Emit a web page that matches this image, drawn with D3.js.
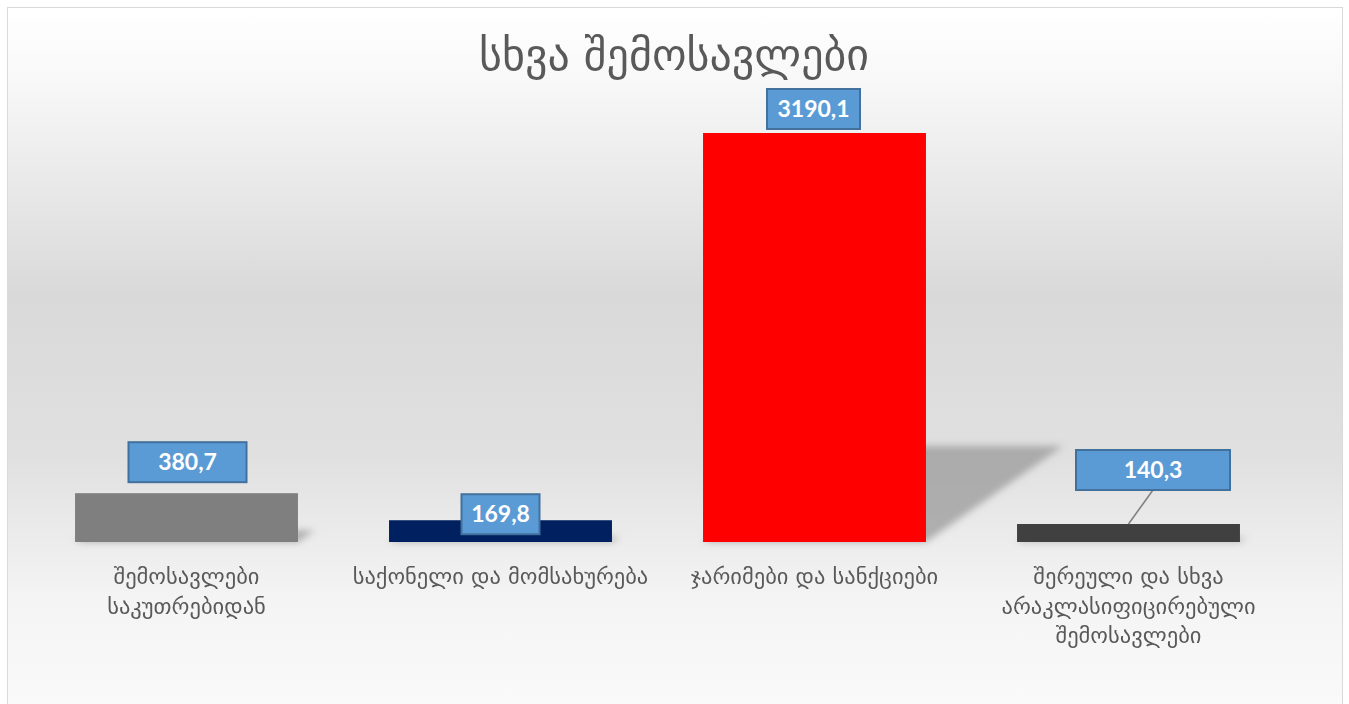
<!DOCTYPE html>
<html>
<head>
<meta charset="utf-8">
<script src="https://cdnjs.cloudflare.com/ajax/libs/d3/7.8.5/d3.min.js"></script>
<style>
  body { margin: 0; background: #ffffff; }
  svg { display: block; }
</style>
</head>
<body>
<script>
// chart data
var title = "სხვა შემოსავლები";
var categories = [
  "შემოსავლები\nსაკუთრებიდან",
  "საქონელი და მომსახურება",
  "ჯარიმები და სანქციები",
  "შერეული და სხვა\nარაკლასიფიცირებული\nშემოსავლები"
];
var values = [380.7, 169.8, 3190.1, 140.3];
var valueLabels = ["380,7", "169,8", "3190,1", "140,3"];
var barColors = ["#7f7f7f", "#002060", "#ff0000", "#404040"];

// where the label boxes were dragged to (centre dx, bottom relative to bar top, width)
var labelBoxes = [
  { dx: 1, dy: -11, w: 118 },
  { dx: 0, dy: 14, w: 78 },
  { dx: -1, dy: -4, w: 93 },
  { dx: 24.5, dy: -34, w: 154 }
];

var width = 1349, height = 704;
var baseY = 542;

var svg = d3.select("body").append("svg")
  .attr("width", width)
  .attr("height", height);

var defs = svg.append("defs");
var grad = defs.append("linearGradient")
  .attr("id", "bg")
  .attr("x1", 0).attr("y1", 0).attr("x2", 0).attr("y2", 1);
[[0, "#ffffff"], [0.1, "#f8f8f8"], [0.4, "#d9d9d9"], [0.62, "#e0e0e0"], [0.82, "#f4f4f4"], [1, "#fbfbfb"]]
  .forEach(function (s) {
    grad.append("stop").attr("offset", s[0]).attr("stop-color", s[1]);
  });

defs.append("filter").attr("id", "blur")
  .attr("x", "-20%").attr("y", "-20%").attr("width", "140%").attr("height", "140%")
  .append("feGaussianBlur").attr("stdDeviation", 3.5);

// chart area
svg.append("rect")
  .attr("x", 7.5).attr("y", 7.5)
  .attr("width", 1335).attr("height", 720)
  .attr("fill", "url(#bg)")
  .attr("stroke", "#d9d9d9")
  .attr("stroke-width", 1);

var x = d3.scaleBand()
  .domain(categories)
  .range([29.5, 1285.5])
  .paddingInner(0.29)
  .paddingOuter(0.145);

var y = d3.scaleLinear()
  .domain([0, 3500])
  .range([baseY, baseY - 409 * 3500 / 3190.1]);

var data = categories.map(function (c, i) {
  return { cat: c, value: values[i], label: valueLabels[i], color: barColors[i], box: labelBoxes[i] };
});

// perspective shadows behind the bars
svg.append("g").attr("filter", "url(#blur)")
  .selectAll("path")
  .data(data)
  .enter().append("path")
  .attr("fill", "#9a9a9a")
  .attr("opacity", 0.75)
  .attr("d", function (d) {
    var h = baseY - y(d.value);
    var xl = x(d.cat), xr = x(d.cat) + x.bandwidth();
    var sx = 0.335 * h, sy = 0.235 * h;
    return "M" + xl + "," + baseY +
      "L" + (xl + sx) + "," + (baseY - sy) +
      "L" + (xr + sx) + "," + (baseY - sy) +
      "L" + xr + "," + baseY + "Z";
  });

// bars
svg.append("g")
  .selectAll("rect")
  .data(data)
  .enter().append("rect")
  .attr("x", function (d) { return x(d.cat); })
  .attr("y", function (d) { return y(d.value); })
  .attr("width", x.bandwidth())
  .attr("height", function (d) { return baseY - y(d.value); })
  .attr("fill", function (d) { return d.color; });

// title
svg.append("text")
  .attr("x", 674)
  .attr("y", 70)
  .attr("text-anchor", "middle")
  .style("font-family", "'DejaVu Sans', sans-serif")
  .style("font-size", "44px")
  .style("fill", "#595959")
  .text(title);

// category labels
var cats = svg.append("g").selectAll("text")
  .data(data)
  .enter().append("text")
  .attr("text-anchor", "middle")
  .attr("x", function (d) { return x(d.cat) + x.bandwidth() / 2; })
  .attr("y", 584)
  .style("font-family", "'DejaVu Sans', sans-serif")
  .style("font-size", "22.5px")
  .style("fill", "#595959");

cats.each(function (d) {
  var t = d3.select(this);
  d.cat.split("\n").forEach(function (line, j) {
    t.append("tspan")
      .attr("x", x(d.cat) + x.bandwidth() / 2)
      .attr("dy", j === 0 ? 0 : 29.5)
      .text(line);
  });
});

// data labels
var boxH = 40;
var labels = svg.append("g").selectAll("g")
  .data(data)
  .enter().append("g")
  .attr("transform", function (d) {
    var cx = x(d.cat) + x.bandwidth() / 2 + d.box.dx;
    var bottom = y(d.value) + d.box.dy;
    return "translate(" + cx + "," + (bottom - boxH) + ")";
  });

// leader line when the box sits far above its bar
labels.filter(function (d) { return d.box.dy < -20; })
  .append("line")
  .attr("x1", 0)
  .attr("y1", boxH)
  .attr("x2", function (d) { return -d.box.dx; })
  .attr("y2", function (d) { return boxH - d.box.dy; })
  .attr("stroke", "#7f7f7f")
  .attr("stroke-width", 1.5);

labels.append("rect")
  .attr("x", function (d) { return -d.box.w / 2; })
  .attr("y", 0)
  .attr("width", function (d) { return d.box.w; })
  .attr("height", boxH)
  .attr("fill", "#5b9bd5")
  .attr("stroke", "#41719c")
  .attr("stroke-width", 2);

labels.append("text")
  .attr("x", 0)
  .attr("y", boxH / 2)
  .attr("dy", "0.36em")
  .attr("text-anchor", "middle")
  .style("font-family", "Lato, 'Open Sans', sans-serif")
  .style("font-weight", "bold")
  .style("font-size", "23px")
  .style("fill", "#ffffff")
  .text(function (d) { return d.label; });
</script>
</body>
</html>
